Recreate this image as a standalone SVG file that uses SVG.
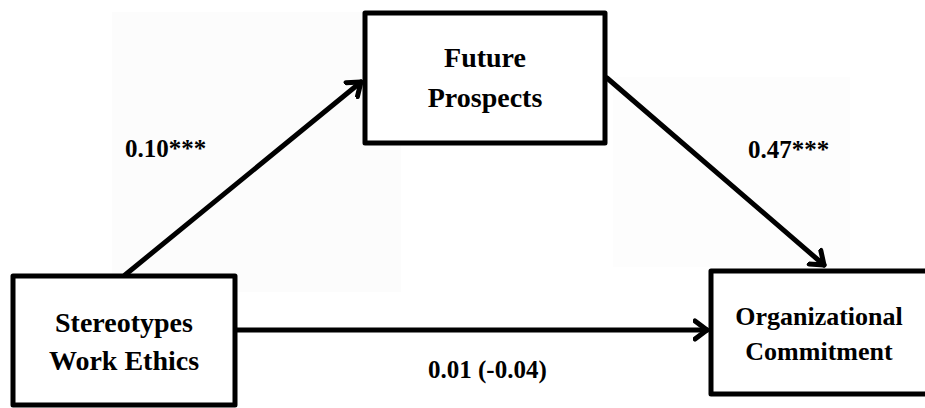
<svg xmlns="http://www.w3.org/2000/svg" width="925" height="408" viewBox="0 0 925 408">
<style>
.box{fill:#fff;stroke:#000;stroke-width:5;stroke-linejoin:round}
.conn{stroke:#000;stroke-width:5;fill:none;stroke-linecap:round}
.lbl{font-family:"Liberation Serif","Times New Roman",serif;font-weight:bold;font-size:25px;fill:#000}
.nt{font-family:"Liberation Serif","Times New Roman",serif;font-weight:bold;font-size:28px;fill:#000;text-anchor:middle}
</style>
<defs>
<marker id="ah" markerUnits="userSpaceOnUse" markerWidth="30" markerHeight="30" refX="14" refY="10" orient="auto" viewBox="0 0 30 20">
<path d="M2,1 L14,10 L2,19" fill="none" stroke="#000" stroke-width="5" stroke-linecap="round" stroke-linejoin="round"/>
</marker>
</defs>
<rect width="925" height="408" fill="#fff"/>
<rect x="112" y="12" width="289" height="280" fill="#fcfcfc"/>
<rect x="613" y="77" width="237" height="190" fill="#fdfdfd"/>
<g id="connectors">
<line class="conn" x1="125" y1="275" x2="361" y2="82" marker-end="url(#ah)"/>
<line class="conn" x1="607" y1="78" x2="824" y2="265" marker-end="url(#ah)"/>
<line class="conn" x1="237" y1="330" x2="707" y2="330" marker-end="url(#ah)"/>
</g>
<g id="node-future">
<rect class="box" x="365" y="13" width="240" height="130"/>
<text class="nt" x="485" y="67">Future</text>
<text class="nt" x="485" y="107">Prospects</text>
</g>
<g id="node-stereotypes">
<rect class="box" x="13" y="276" width="222" height="129"/>
<text class="nt" x="124" y="332">Stereotypes</text>
<text class="nt" x="124" y="370">Work Ethics</text>
</g>
<g id="node-commitment">
<rect class="box" x="711" y="271" width="222" height="123"/>
<text class="nt" x="819" y="325" style="font-size:26px">Organizational</text>
<text class="nt" x="819" y="360" style="font-size:26px">Commitment</text>
</g>
<g id="labels">
<text class="lbl" x="125" y="157">0.10***</text>
<text class="lbl" x="748" y="158">0.47***</text>
<text class="lbl" x="428" y="378">0.01 (-0.04)</text>
</g>
</svg>
